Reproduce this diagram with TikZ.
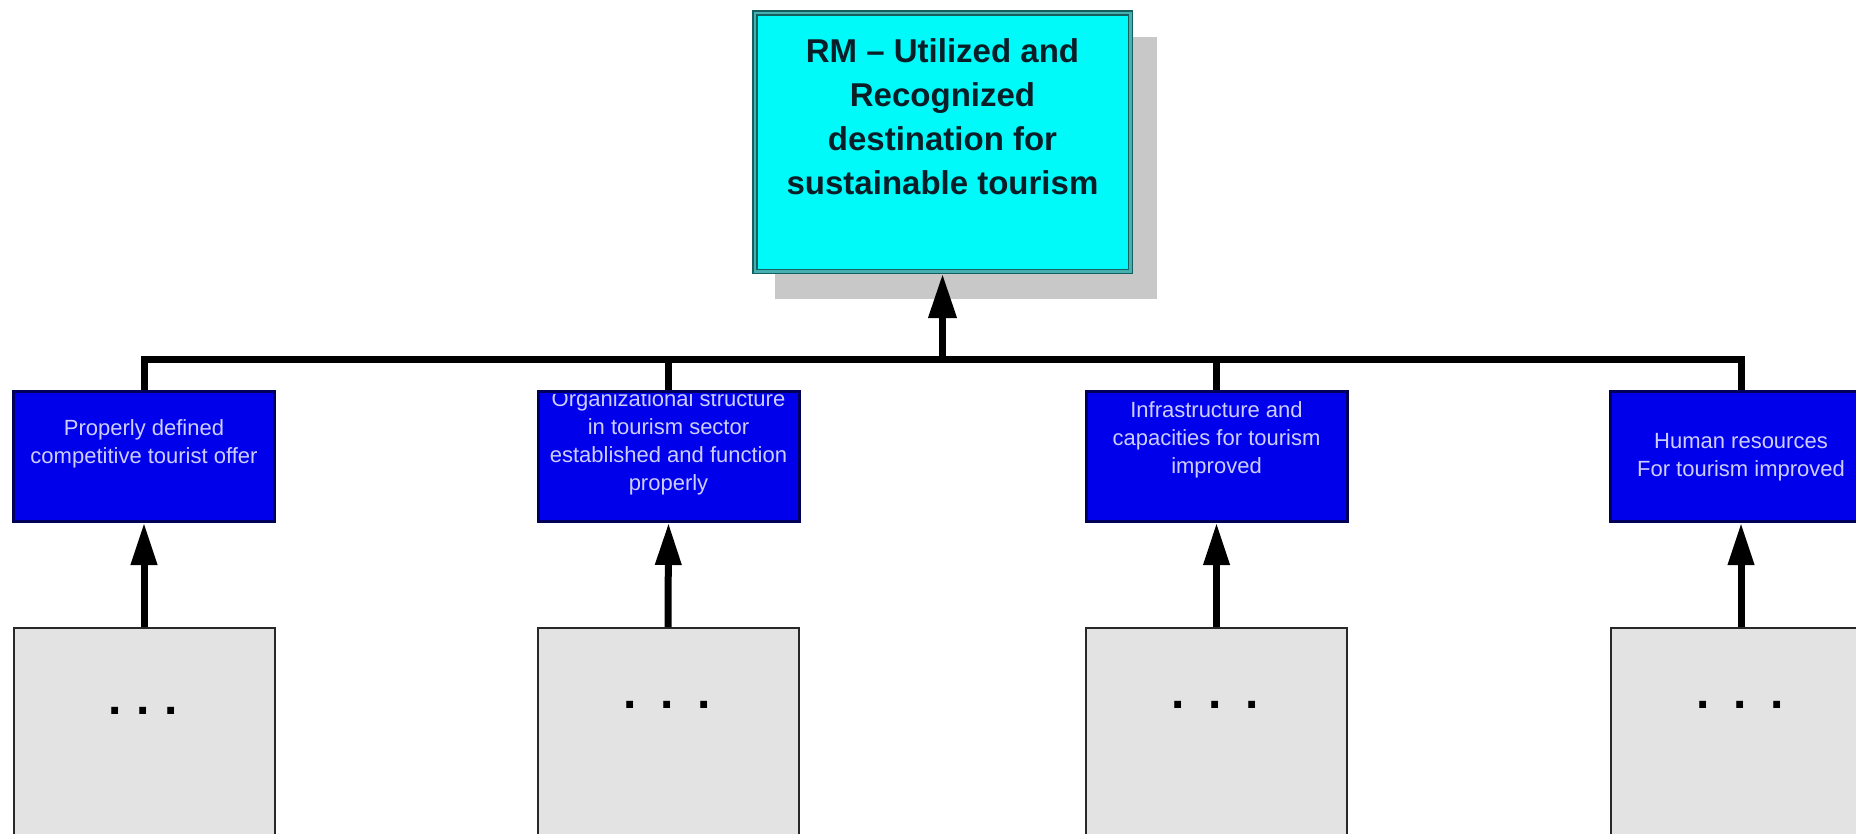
\documentclass[tikz,border=0pt]{standalone}
\usepackage{fontspec}
\setmainfont{Liberation Sans}
\usetikzlibrary{arrows.meta}
\definecolor{cyanfill}{RGB}{0,250,250}
\definecolor{tealedge}{RGB}{20,95,95}
\definecolor{tealmid}{RGB}{70,175,175}
\definecolor{shadowgray}{RGB}{200,200,200}
\definecolor{bluefill}{RGB}{0,0,235}
\definecolor{blueedge}{RGB}{0,0,90}
\definecolor{lavender}{RGB}{205,205,255}
\definecolor{grayfill}{RGB}{227,227,227}
\definecolor{grayedge}{RGB}{40,40,40}
\definecolor{toptext}{RGB}{10,30,40}
\begin{document}
\begin{tikzpicture}[x=1pt,y=-1pt,
  topbox/.style={rectangle, fill=cyanfill, draw=tealedge, line width=1.5pt,
    double=tealmid, double distance=2.5pt, minimum width=375.5pt,
    minimum height=258.5pt, inner sep=0pt, outer sep=2.75pt},
  toptxt/.style={align=center, text=toptext, inner sep=0pt,
    font=\fontsize{33}{44}\selectfont\bfseries},
  blueb/.style={rectangle, fill=bluefill, draw=blueedge, line width=3pt,
    minimum width=261pt, minimum height=130pt, inner sep=0pt},
  bluetxt/.style={align=center, text=lavender, inner sep=0pt,
    font=\fontsize{22}{28}\selectfont},
  grayb/.style={rectangle, fill=grayfill, draw=grayedge, line width=2pt,
    minimum width=261pt, minimum height=260pt, inner sep=0pt},
  dotstxt/.style={font=\fontsize{48}{48}\selectfont\bfseries, inner sep=0pt, anchor=base},
  conn/.style={line width=7pt, line join=miter, draw=black},
  upar/.style={conn, -{Triangle[length=42pt,width=25pt]}},
  bigupar/.style={conn, -{Triangle[length=44pt,width=27pt]}},
]
\useasboundingbox (0,0) rectangle (1856,833);
\clip (0,0) rectangle (1856,833);
\fill[white] (0,0) rectangle (1856,833);

% top goal box with shadow
\fill[shadowgray] (775,37) rectangle (1157,299);
\node[topbox] (top) at (942.5,142) {};
\node[toptxt] (toplbl) at (942.5,117)
  {RM -- Utilized and\\Recognized\\destination for\\sustainable tourism};

% result boxes
\node[blueb] (b1) at (144,456.5) {};
\node[blueb] (b2) at (668.5,456.5) {};
\node[blueb] (b3) at (1216.5,456.5) {};
\node[blueb] (b4) at (1741,456.5) {};

\node[bluetxt] (b1t) at (144,443.5) {Properly defined\\competitive tourist offer};
\begin{scope}
  \clip (537,394) rectangle (800,523);
  \node[bluetxt] (b2t) at (668.5,443)
    {Organizational structure\\in tourism sector\\established and function\\properly};
\end{scope}
\node[bluetxt] (b3t) at (1216.5,440) {Infrastructure and\\capacities for tourism\\improved};
\node[bluetxt] (b4t) at (1741,457) {Human resources\\For tourism improved};

% activity boxes
\node[grayb] (g1) at (144,758) {};
\node[grayb] (g2) at (668,758) {};
\node[grayb] (g3) at (1216.5,758) {};
\node[grayb] (g4) at (1741,758) {};

\node[dotstxt] (g1d) at (143,714.5) {.\hspace{14.7pt}.\hspace{14.7pt}.};
\node[dotstxt] (g2d) at (667.5,708.5) {.\hspace{23.7pt}.\hspace{23.7pt}.};
\node[dotstxt] (g3d) at (1215,708.5) {.\hspace{23.7pt}.\hspace{23.7pt}.};
\node[dotstxt] (g4d) at (1740,708.5) {.\hspace{23.7pt}.\hspace{23.7pt}.};

% connectors
\coordinate (h1) at (144,359.5);
\coordinate (h2) at (668.5,359.5);
\coordinate (h3) at (1216.5,359.5);
\coordinate (h4) at (1741,359.5);
\coordinate (hj) at (942.5,359.5);

\draw[conn] (b1.north) -- (h1) -- (h4) -- (b4.north);
\draw[conn] (b2.north) -- (h2);
\draw[conn] (b3.north) -- (h3);
\draw[bigupar] (hj) -- (top.south);

\draw[upar] (g1.north) -- (b1.south);
\draw[upar] (g2.north) -- (b2.south);
\draw[upar] (g3.north) -- (b3.south);
\draw[upar] (g4.north) -- (b4.south);
\end{tikzpicture}
\end{document}
